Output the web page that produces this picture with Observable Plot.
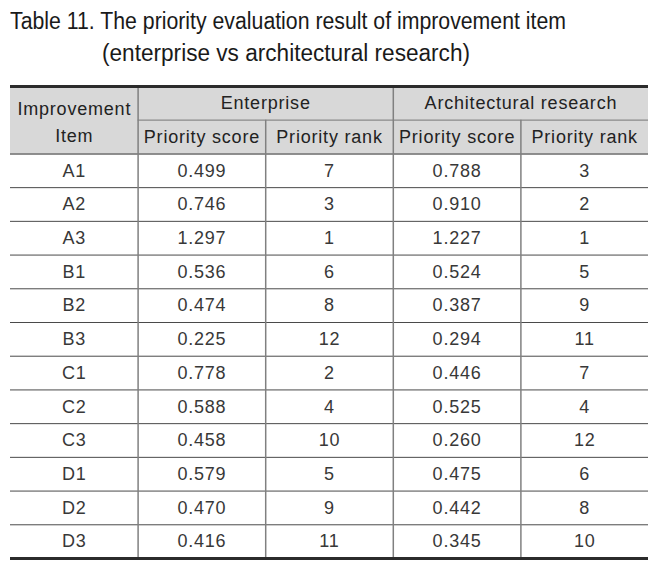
<!DOCTYPE html>
<html>
<head>
<meta charset="utf-8">
<script src="https://cdn.jsdelivr.net/npm/d3@7"></script>
<script src="https://cdn.jsdelivr.net/npm/@observablehq/plot@0.6"></script>
<style>
  html, body { margin: 0; padding: 0; background: #fff; }
  #wrap { width: 668px; height: 563px; position: relative; overflow: hidden; }
  #title { position: relative; height: 80px; font-family: "Liberation Sans", Arial, sans-serif; font-size: 23px; color: #1a1a1a; }
  #title span { position: absolute; white-space: nowrap; line-height: 23px; transform-origin: 0 0; }
</style>
</head>
<body>
<div id="wrap">
  <div id="title">
    <span id="t1" style="left:10px; top:9.5px;">Table 11. The priority evaluation result of improvement item</span>
    <span id="t2" style="left:102px; top:41.5px;">(enterprise vs architectural research)</span>
  </div>
  <div id="chart"></div>
</div>
<script>
// ---- data ----
const items = ["A1","A2","A3","B1","B2","B3","C1","C2","C3","D1","D2","D3"];
const entScore = [0.499,0.746,1.297,0.536,0.474,0.225,0.778,0.588,0.458,0.579,0.470,0.416];
const entRank = [7,3,1,6,8,12,2,4,10,5,9,11];
const arcScore = [0.788,0.910,1.227,0.524,0.387,0.294,0.446,0.525,0.260,0.475,0.442,0.345];
const arcRank = [3,2,1,5,9,11,7,4,12,6,8,10];
const firstHeader = "Improvement\nItem";
const groupHeaders = ["Enterprise","Architectural research"];
const subHeaders = ["Priority score","Priority rank","Priority score","Priority rank"];

// ---- table structure ----
const fmt = d3.format(".3f");
const columns = [items, entScore.map(fmt), entRank.map(String), arcScore.map(fmt), arcRank.map(String)];
const nCols = columns.length;
const headerRows = 2;
const nRows = headerRows + items.length;

const bodyCells = [];
items.forEach((_, i) => {
  columns.forEach((col, j) => bodyCells.push({x: j + 0.5, y: headerRows + i + 0.5, text: col[i]}));
});
const subCells = subHeaders.map((t, j) => ({x: j + 1.5, y: 1.5, text: t}));
const groupCells = groupHeaders.map((t, g) => ({x: 1 + g * 2 + 1, y: 0.5, text: t}));

const rowLines = d3.range(headerRows + 1, nRows);
const font = "'Liberation Sans', Arial, sans-serif";

const chart = Plot.plot({
  width: 668,
  height: 483,
  margin: 0,
  x: {domain: [0, nCols], range: [10, 648], axis: null},
  y: {domain: [0, nRows], range: [6, 478], axis: null},
  style: {fontFamily: font, fontSize: "18px", background: "#fff", overflow: "visible"},
  marks: [
    // header background
    Plot.rect([{x1: 0, x2: nCols, y1: 0, y2: headerRows}], {x1: "x1", x2: "x2", y1: "y1", y2: "y2", fill: "#d8d8d8"}),
    // horizontal lines
    Plot.ruleY([1], {x1: () => 1, x2: () => nCols, stroke: "#8a8a8a", strokeWidth: 1.2}),
    Plot.ruleY([headerRows], {x1: () => 0, x2: () => nCols, stroke: "#6a6a6a", strokeWidth: 1.5}),
    Plot.ruleY(rowLines, {x1: () => 0, x2: () => nCols, stroke: "#4a4a4a", strokeWidth: 1}),
    // vertical lines
    Plot.ruleX([1, 3], {y1: () => 0, y2: () => nRows, stroke: "#808080", strokeWidth: 1.5}),
    Plot.ruleX([2, 4], {y1: () => 1, y2: () => nRows, stroke: "#808080", strokeWidth: 1.5}),
    // top & bottom thick borders
    Plot.ruleY([0, nRows], {x1: () => 0, x2: () => nCols, stroke: "#2b2b2b", strokeWidth: 3}),
    // header texts
    Plot.text([firstHeader], {x: () => 0.5, y: () => 1, text: d => d, lineHeight: 1.5, fill: "#222", fontSize: 18}),
    Plot.text(groupCells, {x: "x", y: "y", text: "text", fill: "#222", fontSize: 18}),
    Plot.text(subCells, {x: "x", y: "y", text: "text", fill: "#222", fontSize: 18}),
    // body
    Plot.text(bodyCells, {x: "x", y: "y", text: "text", fill: "#383838", fontSize: 18})
  ]
});
chart.querySelectorAll("text").forEach(t => t.style.letterSpacing = "0.8px");
document.getElementById("chart").appendChild(chart);

// fit title lines to the reference widths
function fit(id, target) {
  const el = document.getElementById(id);
  const w = el.getBoundingClientRect().width;
  if (w > 0) el.style.transform = `scaleX(${target / w})`;
}
fit("t1", 556);
fit("t2", 368);
</script>
</body>
</html>
